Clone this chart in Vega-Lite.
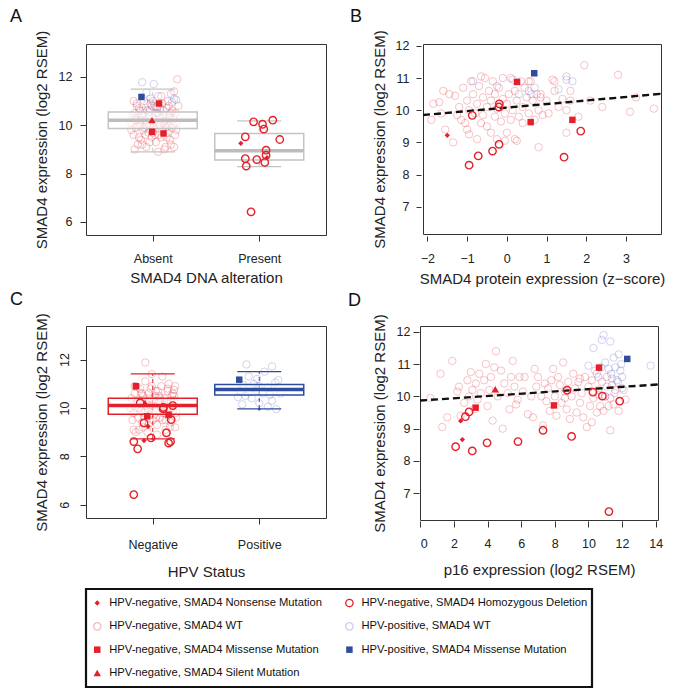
{
"$schema":"https://vega.github.io/schema/vega-lite/v6.json",
"background":"white",
"padding":{"left":7,"top":7,"right":5,"bottom":5},
"config":{
 "font":"Liberation Sans",
 "view":{"stroke":"#333","strokeWidth":1},
 "axis":{"grid":false,"domain":false,"tickColor":"#333","tickSize":6,"tickWidth":1,"labelFontSize":12.5,"labelColor":"#222","titleFontSize":15,"titleFontWeight":"normal","titleColor":"#222","labelFont":"Liberation Sans","titleFont":"Liberation Sans"},
 "title":{"font":"Liberation Sans","fontSize":18,"fontWeight":"normal","color":"#111","anchor":"start","frame":"group","baseline":"alphabetic","offset":0}
},
"datasets":{
"A":[
{"x":0.80,"y":10.1,"g":"wtneg"},{"x":0.82,"y":9.6,"g":"wtneg"},{"x":0.83,"y":10.5,"g":"wtneg"},{"x":0.84,"y":9.9,"g":"wtneg"},{"x":0.85,"y":10.3,"g":"wtneg"},{"x":0.86,"y":9.2,"g":"wtneg"},{"x":0.87,"y":10.7,"g":"wtneg"},{"x":0.88,"y":10.0,"g":"wtneg"},{"x":0.89,"y":9.4,"g":"wtneg"},{"x":0.90,"y":10.4,"g":"wtneg"},{"x":0.91,"y":9.8,"g":"wtneg"},{"x":0.92,"y":11.0,"g":"wtneg"},{"x":0.93,"y":10.2,"g":"wtneg"},{"x":0.94,"y":9.1,"g":"wtneg"},{"x":0.95,"y":10.6,"g":"wtneg"},{"x":0.96,"y":9.7,"g":"wtneg"},{"x":0.97,"y":10.0,"g":"wtneg"},{"x":0.98,"y":10.9,"g":"wtneg"},{"x":0.99,"y":9.5,"g":"wtneg"},{"x":1.00,"y":10.3,"g":"wtneg"},{"x":1.01,"y":9.9,"g":"wtneg"},{"x":1.02,"y":10.8,"g":"wtneg"},{"x":1.03,"y":9.3,"g":"wtneg"},{"x":1.04,"y":10.1,"g":"wtneg"},{"x":1.05,"y":10.5,"g":"wtneg"},{"x":1.06,"y":9.6,"g":"wtneg"},{"x":1.07,"y":10.0,"g":"wtneg"},{"x":1.08,"y":11.2,"g":"wtneg"},{"x":1.09,"y":9.8,"g":"wtneg"},{"x":1.10,"y":10.4,"g":"wtneg"},{"x":1.11,"y":9.0,"g":"wtneg"},{"x":1.12,"y":10.2,"g":"wtneg"},{"x":1.13,"y":10.7,"g":"wtneg"},{"x":1.14,"y":9.7,"g":"wtneg"},{"x":1.15,"y":10.0,"g":"wtneg"},{"x":1.16,"y":9.4,"g":"wtneg"},{"x":1.17,"y":10.5,"g":"wtneg"},{"x":1.18,"y":9.9,"g":"wtneg"},{"x":1.19,"y":10.3,"g":"wtneg"},{"x":1.20,"y":11.4,"g":"wtneg"},{"x":1.21,"y":9.6,"g":"wtneg"},{"x":1.22,"y":10.1,"g":"wtneg"},{"x":0.81,"y":10.4,"g":"wtneg"},{"x":0.83,"y":9.0,"g":"wtneg"},{"x":0.85,"y":10.9,"g":"wtneg"},{"x":0.87,"y":9.5,"g":"wtneg"},{"x":0.89,"y":10.2,"g":"wtneg"},{"x":0.91,"y":10.6,"g":"wtneg"},{"x":0.93,"y":9.6,"g":"wtneg"},{"x":0.95,"y":10.1,"g":"wtneg"},{"x":0.97,"y":9.3,"g":"wtneg"},{"x":0.99,"y":10.8,"g":"wtneg"},{"x":1.01,"y":10.1,"g":"wtneg"},{"x":1.03,"y":10.5,"g":"wtneg"},{"x":1.05,"y":8.9,"g":"wtneg"},{"x":1.07,"y":10.3,"g":"wtneg"},{"x":1.09,"y":10.9,"g":"wtneg"},{"x":1.11,"y":10.0,"g":"wtneg"},{"x":1.13,"y":9.5,"g":"wtneg"},{"x":1.15,"y":10.8,"g":"wtneg"},{"x":1.17,"y":9.2,"g":"wtneg"},{"x":1.19,"y":10.0,"g":"wtneg"},{"x":1.21,"y":10.5,"g":"wtneg"},{"x":1.23,"y":11.9,"g":"wtneg"},{"x":0.80,"y":9.8,"g":"wtneg"},{"x":0.84,"y":10.2,"g":"wtneg"},{"x":0.88,"y":10.6,"g":"wtneg"},{"x":0.92,"y":9.9,"g":"wtneg"},{"x":0.96,"y":10.4,"g":"wtneg"},{"x":1.00,"y":9.7,"g":"wtneg"},{"x":1.04,"y":10.7,"g":"wtneg"},{"x":1.08,"y":9.5,"g":"wtneg"},{"x":1.12,"y":9.9,"g":"wtneg"},{"x":1.16,"y":10.3,"g":"wtneg"},{"x":1.20,"y":9.1,"g":"wtneg"},{"x":0.86,"y":10.0,"g":"wtneg"},{"x":0.94,"y":10.0,"g":"wtneg"},{"x":1.02,"y":9.6,"g":"wtneg"},{"x":1.10,"y":10.1,"g":"wtneg"},{"x":1.18,"y":10.6,"g":"wtneg"},{"x":0.90,"y":9.2,"g":"wtneg"},{"x":0.98,"y":11.1,"g":"wtneg"},{"x":1.06,"y":10.4,"g":"wtneg"},{"x":1.14,"y":11.0,"g":"wtneg"},{"x":1.22,"y":9.8,"g":"wtneg"},{"x":1.12,"y":9.1,"g":"wtneg"},{"x":0.82,"y":11.0,"g":"wtneg"},{"x":1.24,"y":10.8,"g":"wtneg"},
{"x":0.90,"y":11.78,"g":"wtpos"},{"x":1.01,"y":11.7,"g":"wtpos"},{"x":1.17,"y":11.3,"g":"wtpos"},{"x":1.20,"y":11.1,"g":"wtpos"},{"x":0.95,"y":10.9,"g":"wtpos"},{"x":1.05,"y":11.2,"g":"wtpos"},{"x":0.85,"y":10.8,"g":"wtpos"},{"x":1.10,"y":10.6,"g":"wtpos"},{"x":0.92,"y":10.5,"g":"wtpos"},{"x":1.15,"y":10.4,"g":"wtpos"},{"x":0.88,"y":10.2,"g":"wtpos"},{"x":1.00,"y":11.0,"g":"wtpos"},{"x":1.07,"y":10.7,"g":"wtpos"},{"x":1.13,"y":10.0,"g":"wtpos"},{"x":0.97,"y":10.55,"g":"wtpos"},{"x":1.18,"y":10.95,"g":"wtpos"},{"x":0.83,"y":10.3,"g":"wtpos"},{"x":1.03,"y":10.75,"g":"wtpos"},{"x":1.22,"y":11.05,"g":"wtpos"},{"x":0.94,"y":11.35,"g":"wtpos"},
{"x":1.947,"y":10.14,"g":"del"},{"x":2.031,"y":10.04,"g":"del"},{"x":2.127,"y":10.21,"g":"del"},{"x":2.043,"y":9.84,"g":"del"},{"x":1.869,"y":9.52,"g":"del"},{"x":2.193,"y":9.41,"g":"del"},{"x":2.064,"y":8.97,"g":"del"},{"x":2.064,"y":8.76,"g":"del"},{"x":1.869,"y":8.62,"g":"del"},{"x":1.977,"y":8.58,"g":"del"},{"x":2.052,"y":8.46,"g":"del"},{"x":1.878,"y":8.31,"g":"del"},{"x":1.923,"y":6.42,"g":"del"},
{"x":1.827,"y":9.25,"g":"nonsense"},{"x":2.073,"y":8.66,"g":"nonsense"},
{"x":0.894,"y":11.17,"g":"mispos"},
{"x":1.059,"y":10.90,"g":"misneg"},{"x":0.993,"y":9.73,"g":"misneg"},{"x":1.101,"y":9.66,"g":"misneg"},
{"x":0.993,"y":10.21,"g":"silent"}
],
"Abox":[
{"x":1,"q1":9.86,"med":10.21,"q3":10.55,"lo":8.90,"hi":11.49},
{"x":2,"q1":8.56,"med":8.94,"q3":9.66,"lo":8.29,"hi":10.18}
],
"B":[
{"x":-1.85,"y":10.2,"g":"wtneg"},{"x":-1.9,"y":9.7,"g":"wtneg"},{"x":-1.6,"y":10.6,"g":"wtneg"},{"x":-1.55,"y":9.4,"g":"wtneg"},{"x":-1.7,"y":10.25,"g":"wtneg"},{"x":-1.35,"y":9.0,"g":"wtneg"},{"x":-1.3,"y":10.45,"g":"wtneg"},{"x":-1.25,"y":9.85,"g":"wtneg"},{"x":-1.2,"y":10.1,"g":"wtneg"},{"x":-1.1,"y":10.7,"g":"wtneg"},{"x":-1.05,"y":9.6,"g":"wtneg"},{"x":-1.0,"y":10.3,"g":"wtneg"},{"x":-1.0,"y":9.4,"g":"wtneg"},{"x":-0.95,"y":10.0,"g":"wtneg"},{"x":-0.9,"y":10.9,"g":"wtneg"},{"x":-0.85,"y":10.5,"g":"wtneg"},{"x":-0.8,"y":9.9,"g":"wtneg"},{"x":-0.75,"y":10.2,"g":"wtneg"},{"x":-0.75,"y":9.1,"g":"wtneg"},{"x":-0.7,"y":10.75,"g":"wtneg"},{"x":-0.65,"y":9.6,"g":"wtneg"},{"x":-0.6,"y":10.4,"g":"wtneg"},{"x":-0.6,"y":9.85,"g":"wtneg"},{"x":-0.55,"y":11.0,"g":"wtneg"},{"x":-0.5,"y":10.1,"g":"wtneg"},{"x":-0.5,"y":9.5,"g":"wtneg"},{"x":-0.45,"y":10.6,"g":"wtneg"},{"x":-0.4,"y":9.3,"g":"wtneg"},{"x":-0.4,"y":10.3,"g":"wtneg"},{"x":-0.35,"y":10.9,"g":"wtneg"},{"x":-0.3,"y":9.8,"g":"wtneg"},{"x":-0.3,"y":10.5,"g":"wtneg"},{"x":-0.25,"y":9.1,"g":"wtneg"},{"x":-0.2,"y":10.7,"g":"wtneg"},{"x":-0.15,"y":9.65,"g":"wtneg"},{"x":-0.1,"y":10.35,"g":"wtneg"},{"x":-0.1,"y":11.0,"g":"wtneg"},{"x":-0.05,"y":9.9,"g":"wtneg"},{"x":0.0,"y":10.2,"g":"wtneg"},{"x":0.0,"y":9.3,"g":"wtneg"},{"x":0.05,"y":10.5,"g":"wtneg"},{"x":0.1,"y":9.7,"g":"wtneg"},{"x":0.1,"y":11.0,"g":"wtneg"},{"x":0.15,"y":10.0,"g":"wtneg"},{"x":0.2,"y":9.1,"g":"wtneg"},{"x":0.2,"y":10.6,"g":"wtneg"},{"x":0.25,"y":10.3,"g":"wtneg"},{"x":0.3,"y":9.8,"g":"wtneg"},{"x":0.35,"y":10.9,"g":"wtneg"},{"x":0.4,"y":10.1,"g":"wtneg"},{"x":0.4,"y":9.6,"g":"wtneg"},{"x":0.45,"y":10.7,"g":"wtneg"},{"x":0.5,"y":10.4,"g":"wtneg"},{"x":0.55,"y":9.9,"g":"wtneg"},{"x":0.6,"y":10.9,"g":"wtneg"},{"x":0.65,"y":10.3,"g":"wtneg"},{"x":0.7,"y":9.7,"g":"wtneg"},{"x":0.75,"y":10.5,"g":"wtneg"},{"x":0.8,"y":8.85,"g":"wtneg"},{"x":0.8,"y":10.0,"g":"wtneg"},{"x":0.85,"y":10.4,"g":"wtneg"},{"x":0.9,"y":9.85,"g":"wtneg"},{"x":1.0,"y":10.3,"g":"wtneg"},{"x":1.05,"y":9.9,"g":"wtneg"},{"x":1.2,"y":10.6,"g":"wtneg"},{"x":1.2,"y":10.9,"g":"wtneg"},{"x":1.3,"y":10.1,"g":"wtneg"},{"x":1.4,"y":10.35,"g":"wtneg"},{"x":1.5,"y":10.0,"g":"wtneg"},{"x":1.5,"y":11.05,"g":"wtneg"},{"x":1.5,"y":9.3,"g":"wtneg"},{"x":1.6,"y":10.6,"g":"wtneg"},{"x":1.6,"y":10.3,"g":"wtneg"},{"x":1.8,"y":9.8,"g":"wtneg"},{"x":1.95,"y":11.4,"g":"wtneg"},{"x":2.1,"y":10.3,"g":"wtneg"},{"x":2.4,"y":10.1,"g":"wtneg"},{"x":2.8,"y":11.1,"g":"wtneg"},{"x":3.1,"y":9.95,"g":"wtneg"},{"x":3.25,"y":10.4,"g":"wtneg"},{"x":3.7,"y":10.05,"g":"wtneg"},{"x":-1.65,"y":9.9,"g":"wtneg"},{"x":-1.45,"y":10.5,"g":"wtneg"},{"x":-0.95,"y":9.25,"g":"wtneg"},{"x":-0.65,"y":11.05,"g":"wtneg"},{"x":-0.25,"y":10.05,"g":"wtneg"},{"x":0.55,"y":10.9,"g":"wtneg"},{"x":0.85,"y":10.5,"g":"wtneg"},{"x":-1.15,"y":9.7,"g":"wtneg"},{"x":-0.05,"y":9.05,"g":"wtneg"},{"x":0.25,"y":9.05,"g":"wtneg"},{"x":1.15,"y":10.95,"g":"wtneg"},
{"x":-0.85,"y":10.9,"g":"wtpos"},{"x":-0.25,"y":10.75,"g":"wtpos"},{"x":0.15,"y":10.95,"g":"wtpos"},{"x":0.55,"y":10.6,"g":"wtpos"},{"x":0.62,"y":10.5,"g":"wtpos"},{"x":1.5,"y":10.95,"g":"wtpos"},{"x":1.65,"y":10.9,"g":"wtpos"},{"x":0.7,"y":10.7,"g":"wtpos"},{"x":0.3,"y":10.5,"g":"wtpos"},{"x":1.3,"y":10.65,"g":"wtpos"},
{"x":-0.87,"y":9.84,"g":"del"},{"x":-0.19,"y":10.2,"g":"del"},{"x":-0.2,"y":10.1,"g":"del"},{"x":-0.196,"y":8.94,"g":"del"},{"x":-0.36,"y":8.73,"g":"del"},{"x":-0.72,"y":8.58,"g":"del"},{"x":-0.95,"y":8.29,"g":"del"},{"x":1.44,"y":8.54,"g":"del"},{"x":1.86,"y":9.35,"g":"del"},
{"x":-1.5,"y":9.22,"g":"nonsense"},
{"x":0.257,"y":10.88,"g":"misneg"},{"x":0.60,"y":9.63,"g":"misneg"},{"x":1.65,"y":9.70,"g":"misneg"},
{"x":0.69,"y":11.15,"g":"mispos"}
],
"Bline":[{"x":-2.11,"y":9.85},{"x":3.88,"y":10.51}],
"C":[
{"x":0.79,"y":10.0,"g":"wtneg"},{"x":0.81,"y":9.5,"g":"wtneg"},{"x":0.83,"y":10.6,"g":"wtneg"},{"x":0.84,"y":10.0,"g":"wtneg"},{"x":0.86,"y":10.3,"g":"wtneg"},{"x":0.87,"y":9.1,"g":"wtneg"},{"x":0.88,"y":10.8,"g":"wtneg"},{"x":0.89,"y":9.9,"g":"wtneg"},{"x":0.90,"y":9.4,"g":"wtneg"},{"x":0.91,"y":10.5,"g":"wtneg"},{"x":0.92,"y":9.8,"g":"wtneg"},{"x":0.93,"y":11.1,"g":"wtneg"},{"x":0.94,"y":10.2,"g":"wtneg"},{"x":0.95,"y":9.0,"g":"wtneg"},{"x":0.96,"y":10.6,"g":"wtneg"},{"x":0.97,"y":9.7,"g":"wtneg"},{"x":0.98,"y":10.1,"g":"wtneg"},{"x":0.99,"y":10.9,"g":"wtneg"},{"x":1.00,"y":9.5,"g":"wtneg"},{"x":1.01,"y":10.3,"g":"wtneg"},{"x":1.02,"y":9.9,"g":"wtneg"},{"x":1.03,"y":10.7,"g":"wtneg"},{"x":1.04,"y":9.3,"g":"wtneg"},{"x":1.05,"y":10.2,"g":"wtneg"},{"x":1.06,"y":10.5,"g":"wtneg"},{"x":1.07,"y":9.6,"g":"wtneg"},{"x":1.08,"y":10.0,"g":"wtneg"},{"x":1.09,"y":11.3,"g":"wtneg"},{"x":1.10,"y":9.8,"g":"wtneg"},{"x":1.11,"y":10.4,"g":"wtneg"},{"x":1.12,"y":9.1,"g":"wtneg"},{"x":1.13,"y":10.2,"g":"wtneg"},{"x":1.14,"y":10.7,"g":"wtneg"},{"x":1.15,"y":9.7,"g":"wtneg"},{"x":1.16,"y":10.0,"g":"wtneg"},{"x":1.17,"y":9.4,"g":"wtneg"},{"x":1.18,"y":10.5,"g":"wtneg"},{"x":1.19,"y":9.9,"g":"wtneg"},{"x":1.20,"y":10.3,"g":"wtneg"},{"x":1.21,"y":10.9,"g":"wtneg"},{"x":1.22,"y":9.6,"g":"wtneg"},{"x":0.80,"y":10.4,"g":"wtneg"},{"x":0.82,"y":9.1,"g":"wtneg"},{"x":0.84,"y":10.9,"g":"wtneg"},{"x":0.86,"y":9.6,"g":"wtneg"},{"x":0.88,"y":10.2,"g":"wtneg"},{"x":0.90,"y":10.6,"g":"wtneg"},{"x":0.92,"y":9.6,"g":"wtneg"},{"x":0.94,"y":10.1,"g":"wtneg"},{"x":0.96,"y":9.3,"g":"wtneg"},{"x":0.98,"y":10.8,"g":"wtneg"},{"x":1.00,"y":10.1,"g":"wtneg"},{"x":1.02,"y":10.5,"g":"wtneg"},{"x":1.04,"y":8.9,"g":"wtneg"},{"x":1.06,"y":10.3,"g":"wtneg"},{"x":1.08,"y":10.9,"g":"wtneg"},{"x":1.10,"y":10.0,"g":"wtneg"},{"x":1.12,"y":9.5,"g":"wtneg"},{"x":1.14,"y":10.8,"g":"wtneg"},{"x":1.16,"y":9.2,"g":"wtneg"},{"x":1.18,"y":10.0,"g":"wtneg"},{"x":1.20,"y":10.5,"g":"wtneg"},{"x":0.93,"y":11.88,"g":"wtneg"},{"x":0.82,"y":9.8,"g":"wtneg"},{"x":0.85,"y":10.2,"g":"wtneg"},{"x":0.89,"y":10.6,"g":"wtneg"},{"x":0.93,"y":9.9,"g":"wtneg"},{"x":0.97,"y":10.4,"g":"wtneg"},{"x":1.01,"y":9.7,"g":"wtneg"},{"x":1.05,"y":10.7,"g":"wtneg"},{"x":1.09,"y":9.5,"g":"wtneg"},{"x":1.13,"y":9.9,"g":"wtneg"},{"x":1.17,"y":10.3,"g":"wtneg"},{"x":1.21,"y":9.2,"g":"wtneg"},{"x":0.87,"y":10.0,"g":"wtneg"},{"x":0.95,"y":10.0,"g":"wtneg"},{"x":1.03,"y":9.6,"g":"wtneg"},{"x":1.11,"y":10.1,"g":"wtneg"},{"x":1.19,"y":10.6,"g":"wtneg"},{"x":0.91,"y":9.2,"g":"wtneg"},{"x":0.99,"y":11.4,"g":"wtneg"},{"x":1.07,"y":10.4,"g":"wtneg"},{"x":1.15,"y":11.0,"g":"wtneg"},{"x":1.22,"y":9.8,"g":"wtneg"},{"x":1.13,"y":9.0,"g":"wtneg"},{"x":0.83,"y":10.9,"g":"wtneg"},{"x":1.20,"y":10.75,"g":"wtneg"},{"x":0.84,"y":9.0,"g":"wtneg"},
{"x":1.88,"y":11.8,"g":"wtpos"},{"x":2.12,"y":11.72,"g":"wtpos"},{"x":2.05,"y":11.5,"g":"wtpos"},{"x":2.18,"y":11.15,"g":"wtpos"},{"x":2.15,"y":11.05,"g":"wtpos"},{"x":1.85,"y":10.95,"g":"wtpos"},{"x":1.95,"y":11.0,"g":"wtpos"},{"x":2.0,"y":10.9,"g":"wtpos"},{"x":2.08,"y":10.85,"g":"wtpos"},{"x":1.82,"y":10.7,"g":"wtpos"},{"x":1.9,"y":10.65,"g":"wtpos"},{"x":1.97,"y":10.75,"g":"wtpos"},{"x":2.03,"y":10.6,"g":"wtpos"},{"x":2.1,"y":10.55,"g":"wtpos"},{"x":2.2,"y":10.6,"g":"wtpos"},{"x":1.8,"y":10.45,"g":"wtpos"},{"x":1.87,"y":10.5,"g":"wtpos"},{"x":1.93,"y":10.4,"g":"wtpos"},{"x":2.0,"y":10.2,"g":"wtpos"},{"x":1.84,"y":10.15,"g":"wtpos"},{"x":2.08,"y":10.05,"g":"wtpos"},{"x":2.16,"y":9.95,"g":"wtpos"},{"x":1.98,"y":11.2,"g":"wtpos"},{"x":2.12,"y":10.3,"g":"wtpos"},{"x":1.9,"y":11.3,"g":"wtpos"},
{"x":0.822,"y":6.42,"g":"del"},{"x":0.822,"y":8.61,"g":"del"},{"x":0.858,"y":8.31,"g":"del"},{"x":0.984,"y":8.76,"g":"del"},{"x":0.918,"y":9.38,"g":"del"},{"x":1.128,"y":8.97,"g":"del"},{"x":1.149,"y":8.55,"g":"del"},{"x":1.167,"y":8.61,"g":"del"},{"x":1.173,"y":9.52,"g":"del"},{"x":0.882,"y":10.21,"g":"del"},{"x":1.098,"y":9.96,"g":"del"},{"x":1.188,"y":10.10,"g":"del"},{"x":1.10,"y":10.02,"g":"del"},
{"x":0.843,"y":10.90,"g":"misneg"},{"x":0.948,"y":9.66,"g":"misneg"},{"x":1.149,"y":9.72,"g":"misneg"},
{"x":0.927,"y":10.21,"g":"silent"},
{"x":0.957,"y":9.24,"g":"nonsense"},{"x":0.918,"y":8.65,"g":"nonsense"},
{"x":1.812,"y":11.17,"g":"mispos"}
],
"Cbox":[
{"x":1,"grp":"neg","q1":9.74,"med":10.10,"q3":10.40,"lo":8.72,"hi":11.41},
{"x":2,"grp":"pos","q1":10.54,"med":10.76,"q3":10.97,"lo":9.96,"hi":11.50}
],
"D":[
{"x":0.6,"y":9.95,"g":"wtneg"},{"x":1.2,"y":10.7,"g":"wtneg"},{"x":1.3,"y":9.05,"g":"wtneg"},{"x":1.6,"y":9.35,"g":"wtneg"},{"x":1.9,"y":11.1,"g":"wtneg"},{"x":2.2,"y":10.15,"g":"wtneg"},{"x":2.3,"y":10.3,"g":"wtneg"},{"x":2.6,"y":9.8,"g":"wtneg"},{"x":2.8,"y":10.5,"g":"wtneg"},{"x":2.9,"y":10.0,"g":"wtneg"},{"x":3.0,"y":10.75,"g":"wtneg"},{"x":3.1,"y":10.2,"g":"wtneg"},{"x":3.3,"y":10.4,"g":"wtneg"},{"x":3.4,"y":9.9,"g":"wtneg"},{"x":3.5,"y":10.7,"g":"wtneg"},{"x":3.6,"y":10.1,"g":"wtneg"},{"x":3.8,"y":10.5,"g":"wtneg"},{"x":3.9,"y":11.0,"g":"wtneg"},{"x":4.0,"y":9.7,"g":"wtneg"},{"x":4.1,"y":10.2,"g":"wtneg"},{"x":4.2,"y":10.6,"g":"wtneg"},{"x":4.3,"y":9.25,"g":"wtneg"},{"x":4.5,"y":11.4,"g":"wtneg"},{"x":4.6,"y":10.0,"g":"wtneg"},{"x":4.8,"y":10.8,"g":"wtneg"},{"x":4.9,"y":9.0,"g":"wtneg"},{"x":5.0,"y":10.4,"g":"wtneg"},{"x":5.2,"y":10.1,"g":"wtneg"},{"x":5.3,"y":9.6,"g":"wtneg"},{"x":5.4,"y":10.6,"g":"wtneg"},{"x":5.5,"y":11.1,"g":"wtneg"},{"x":5.6,"y":10.3,"g":"wtneg"},{"x":5.8,"y":9.9,"g":"wtneg"},{"x":5.9,"y":10.6,"g":"wtneg"},{"x":6.1,"y":10.15,"g":"wtneg"},{"x":6.2,"y":10.6,"g":"wtneg"},{"x":6.4,"y":9.45,"g":"wtneg"},{"x":6.6,"y":10.0,"g":"wtneg"},{"x":6.7,"y":9.35,"g":"wtneg"},{"x":6.9,"y":10.3,"g":"wtneg"},{"x":7.0,"y":10.6,"g":"wtneg"},{"x":7.2,"y":10.0,"g":"wtneg"},{"x":7.3,"y":9.1,"g":"wtneg"},{"x":7.4,"y":10.4,"g":"wtneg"},{"x":7.5,"y":9.85,"g":"wtneg"},{"x":7.6,"y":10.25,"g":"wtneg"},{"x":7.8,"y":10.5,"g":"wtneg"},{"x":7.9,"y":10.85,"g":"wtneg"},{"x":8.0,"y":10.0,"g":"wtneg"},{"x":8.1,"y":9.4,"g":"wtneg"},{"x":8.2,"y":10.6,"g":"wtneg"},{"x":8.3,"y":10.35,"g":"wtneg"},{"x":8.4,"y":9.8,"g":"wtneg"},{"x":8.5,"y":11.05,"g":"wtneg"},{"x":8.6,"y":10.15,"g":"wtneg"},{"x":8.7,"y":9.6,"g":"wtneg"},{"x":8.8,"y":10.45,"g":"wtneg"},{"x":8.9,"y":9.3,"g":"wtneg"},{"x":9.0,"y":10.0,"g":"wtneg"},{"x":9.1,"y":10.7,"g":"wtneg"},{"x":9.2,"y":10.25,"g":"wtneg"},{"x":9.3,"y":9.5,"g":"wtneg"},{"x":9.4,"y":10.45,"g":"wtneg"},{"x":9.5,"y":9.8,"g":"wtneg"},{"x":9.6,"y":10.1,"g":"wtneg"},{"x":9.7,"y":9.35,"g":"wtneg"},{"x":9.8,"y":10.6,"g":"wtneg"},{"x":9.9,"y":9.05,"g":"wtneg"},{"x":10.0,"y":10.3,"g":"wtneg"},{"x":10.1,"y":9.7,"g":"wtneg"},{"x":10.2,"y":10.5,"g":"wtneg"},{"x":10.3,"y":9.95,"g":"wtneg"},{"x":10.4,"y":10.8,"g":"wtneg"},{"x":10.5,"y":9.5,"g":"wtneg"},{"x":10.6,"y":10.2,"g":"wtneg"},{"x":10.7,"y":9.7,"g":"wtneg"},{"x":10.8,"y":10.45,"g":"wtneg"},{"x":10.9,"y":9.55,"g":"wtneg"},{"x":11.0,"y":10.0,"g":"wtneg"},{"x":11.1,"y":10.6,"g":"wtneg"},{"x":11.2,"y":9.7,"g":"wtneg"},{"x":11.3,"y":8.95,"g":"wtneg"},{"x":11.4,"y":10.35,"g":"wtneg"},{"x":11.5,"y":9.75,"g":"wtneg"},{"x":11.6,"y":10.2,"g":"wtneg"},{"x":11.8,"y":9.55,"g":"wtneg"},{"x":12.0,"y":10.25,"g":"wtneg"},{"x":12.2,"y":9.9,"g":"wtneg"},{"x":3.2,"y":9.6,"g":"wtneg"},{"x":4.4,"y":10.9,"g":"wtneg"},{"x":5.7,"y":9.75,"g":"wtneg"},{"x":6.8,"y":10.85,"g":"wtneg"},{"x":7.7,"y":9.55,"g":"wtneg"},{"x":8.6,"y":9.95,"g":"wtneg"},{"x":9.5,"y":10.55,"g":"wtneg"},{"x":10.6,"y":10.05,"g":"wtneg"},{"x":11.3,"y":9.95,"g":"wtneg"},{"x":2.4,"y":9.4,"g":"wtneg"},{"x":10.2,"y":9.2,"g":"wtneg"},
{"x":10.0,"y":10.95,"g":"wtpos"},{"x":10.3,"y":11.5,"g":"wtpos"},{"x":10.6,"y":10.6,"g":"wtpos"},{"x":10.8,"y":11.75,"g":"wtpos"},{"x":10.9,"y":11.9,"g":"wtpos"},{"x":11.0,"y":11.05,"g":"wtpos"},{"x":11.2,"y":10.85,"g":"wtpos"},{"x":11.3,"y":11.7,"g":"wtpos"},{"x":11.4,"y":10.55,"g":"wtpos"},{"x":11.5,"y":11.2,"g":"wtpos"},{"x":11.6,"y":10.9,"g":"wtpos"},{"x":11.7,"y":10.5,"g":"wtpos"},{"x":11.75,"y":10.45,"g":"wtpos"},{"x":11.8,"y":11.3,"g":"wtpos"},{"x":11.9,"y":10.8,"g":"wtpos"},{"x":12.0,"y":10.6,"g":"wtpos"},{"x":11.1,"y":10.3,"g":"wtpos"},{"x":11.55,"y":10.1,"g":"wtpos"},{"x":10.5,"y":10.7,"g":"wtpos"},{"x":13.7,"y":10.95,"g":"wtpos"},{"x":11.95,"y":11.0,"g":"wtpos"},{"x":10.75,"y":10.9,"g":"wtpos"},{"x":11.35,"y":10.7,"g":"wtpos"},{"x":12.1,"y":10.2,"g":"wtpos"},{"x":11.0,"y":10.0,"g":"wtpos"},
{"x":2.10,"y":8.44,"g":"del"},{"x":3.09,"y":8.31,"g":"del"},{"x":3.97,"y":8.56,"g":"del"},{"x":5.81,"y":8.60,"g":"del"},{"x":7.30,"y":8.95,"g":"del"},{"x":9.00,"y":8.76,"g":"del"},{"x":2.68,"y":9.37,"g":"del"},{"x":2.90,"y":9.52,"g":"del"},{"x":8.73,"y":10.19,"g":"del"},{"x":10.27,"y":10.13,"g":"del"},{"x":10.83,"y":10.01,"g":"del"},{"x":11.86,"y":9.85,"g":"del"},{"x":11.22,"y":6.43,"g":"del"},
{"x":10.63,"y":10.89,"g":"misneg"},{"x":3.29,"y":9.65,"g":"misneg"},{"x":7.95,"y":9.72,"g":"misneg"},
{"x":12.31,"y":11.16,"g":"mispos"},
{"x":4.46,"y":10.22,"g":"silent"},
{"x":2.40,"y":9.24,"g":"nonsense"},{"x":2.50,"y":8.66,"g":"nonsense"}
],
"Dline":[{"x":-0.02,"y":9.87},{"x":14.14,"y":10.37}],
"leg":[
{"col":0,"row":0,"g":"nonsense","label":"HPV-negative, SMAD4 Nonsense Mutation"},
{"col":0,"row":1,"g":"wtneg","label":"HPV-negative, SMAD4 WT"},
{"col":0,"row":2,"g":"misneg","label":"HPV-negative, SMAD4 Missense Mutation"},
{"col":0,"row":3,"g":"silent","label":"HPV-negative, SMAD4 Silent Mutation"},
{"col":1,"row":0,"g":"del","label":"HPV-negative, SMAD4 Homozygous Deletion"},
{"col":1,"row":1,"g":"wtpos","label":"HPV-positive, SMAD4 WT"},
{"col":1,"row":2,"g":"mispos","label":"HPV-positive, SMAD4 Missense Mutation"}
]
},
"spacing":7,
"align":"none",
"vconcat":[
{"spacing":3,"align":"none","vconcat":[
{"hconcat":[
{"width":240,"height":191,"title":{"text":"A","dx":-76},"data":{"name":"A"},
 "encoding":{
  "x":{"field":"x","type":"quantitative","scale":{"domain":[0.42,2.58],"nice":false,"zero":false},"axis":{"values":[1,2],"labelExpr":"datum.value==1?'Absent':'Present'","title":"SMAD4 DNA alteration","labelPadding":11,"titlePadding":6}},
  "y":{"field":"y","type":"quantitative","scale":{"domain":[5.46,13.36],"nice":false,"zero":false},"axis":{"values":[6,8,10,12],"title":"SMAD4 expression (log2 RSEM)","labelPadding":8,"titlePadding":9}},
  "color":{"field":"g","type":"nominal","legend":null,"scale":{"domain":["nonsense","wtneg","misneg","silent","del","wtpos","mispos"],"range":["#e4202a","#e4202a","#e4202a","#e4202a","#e4202a","#5a5acc","#2e4d9b"]}},
  "shape":{"field":"g","type":"nominal","legend":null,"scale":{"domain":["nonsense","wtneg","misneg","silent","del","wtpos","mispos"],"range":["diamond","circle","square","triangle-up","circle","circle","square"]}},
  "size":{"field":"g","type":"nominal","legend":null,"scale":{"type":"ordinal","domain":["nonsense","wtneg","misneg","silent","del","wtpos","mispos"],"range":[28,55,42,55,55,55,42]}},
  "opacity":{"field":"g","type":"nominal","legend":null,"scale":{"type":"ordinal","domain":["nonsense","wtneg","misneg","silent","del","wtpos","mispos"],"range":[1,0.3,1,1,1,0.3,1]}}
 },
 "layer":[
  {"transform":[{"filter":"datum.g=='wtneg'||datum.g=='wtpos'"}],"mark":{"type":"point","filled":false,"strokeWidth":0.9}},
  {"data":{"name":"Abox"},"mark":{"type":"rule","strokeDash":[4,3]},"encoding":{"y":{"field":"lo","type":"quantitative","scale":{"domain":[5.46,13.36],"nice":false,"zero":false},"axis":{"values":[6,8,10,12],"title":"SMAD4 expression (log2 RSEM)","labelPadding":8,"titlePadding":9}},"y2":{"field":"hi"},"color":{"value":"#c8c8c8"},"opacity":{"value":1},"size":{"value":1}}},
  {"data":{"name":"Abox"},"mark":{"type":"bar","fill":"white","fillOpacity":0.65,"stroke":"#c4c4c4","strokeWidth":1.5},"encoding":{"y":{"field":"q1","type":"quantitative","scale":{"domain":[5.46,13.36],"nice":false,"zero":false},"axis":{"values":[6,8,10,12],"title":"SMAD4 expression (log2 RSEM)","labelPadding":8,"titlePadding":9}},"y2":{"field":"q3"},"color":{"value":"#c4c4c4"},"opacity":{"value":1},"size":{"value":89}}},
  {"data":{"name":"Abox"},"mark":{"type":"tick","orient":"horizontal","thickness":3.5},"encoding":{"y":{"field":"med","type":"quantitative","scale":{"domain":[5.46,13.36],"nice":false,"zero":false},"axis":{"values":[6,8,10,12],"title":"SMAD4 expression (log2 RSEM)","labelPadding":8,"titlePadding":9}},"color":{"value":"#bdbdbd"},"opacity":{"value":1},"size":{"value":89}}},
  {"data":{"name":"Abox"},"transform":[{"fold":["lo","hi"],"as":["k","v"]}],"mark":{"type":"tick","orient":"horizontal","thickness":1.3},"encoding":{"y":{"field":"v","type":"quantitative","scale":{"domain":[5.46,13.36],"nice":false,"zero":false},"axis":{"values":[6,8,10,12],"title":"SMAD4 expression (log2 RSEM)","labelPadding":8,"titlePadding":9}},"color":{"value":"#c4c4c4"},"opacity":{"value":1},"size":{"value":44}}},
  {"transform":[{"filter":"datum.g=='del'"}],"mark":{"type":"point","filled":false,"strokeWidth":1.4}},
  {"transform":[{"filter":"datum.g!='del'&&datum.g!='wtneg'&&datum.g!='wtpos'"}],"mark":{"type":"point","filled":true,"strokeWidth":0}}
 ]},
{"width":238,"height":190,"title":{"text":"B","dx":-73},"data":{"name":"B"},
 "encoding":{
  "x":{"field":"x","type":"quantitative","scale":{"domain":[-2.11,3.88],"nice":false,"zero":false},"axis":{"values":[-2,-1,0,1,2,3],"title":"SMAD4 protein expression (z\u2212score)","offset":2,"tickSize":5,"labelPadding":11,"titlePadding":7}},
  "y":{"field":"y","type":"quantitative","scale":{"domain":[6.15,12.06],"nice":false,"zero":false},"axis":{"values":[7,8,9,10,11,12],"title":"SMAD4 expression (log2 RSEM)","offset":2,"tickSize":5,"labelPadding":7,"titlePadding":8}},
  "color":{"field":"g","type":"nominal","legend":null,"scale":{"domain":["nonsense","wtneg","misneg","silent","del","wtpos","mispos"],"range":["#e4202a","#e4202a","#e4202a","#e4202a","#e4202a","#5a5acc","#2e4d9b"]}},
  "shape":{"field":"g","type":"nominal","legend":null,"scale":{"domain":["nonsense","wtneg","misneg","silent","del","wtpos","mispos"],"range":["diamond","circle","square","triangle-up","circle","circle","square"]}},
  "size":{"field":"g","type":"nominal","legend":null,"scale":{"type":"ordinal","domain":["nonsense","wtneg","misneg","silent","del","wtpos","mispos"],"range":[28,55,42,55,55,55,42]}},
  "opacity":{"field":"g","type":"nominal","legend":null,"scale":{"type":"ordinal","domain":["nonsense","wtneg","misneg","silent","del","wtpos","mispos"],"range":[1,0.3,1,1,1,0.3,1]}}
 },
 "layer":[
  {"transform":[{"filter":"datum.g=='wtneg'||datum.g=='wtpos'"}],"mark":{"type":"point","filled":false,"strokeWidth":0.9}},
  {"data":{"name":"Bline"},"mark":{"type":"line","strokeDash":[7,4],"clip":true},"encoding":{"color":{"value":"#111"},"opacity":{"value":1},"size":{"value":2.4}}},
  {"transform":[{"filter":"datum.g=='del'"}],"mark":{"type":"point","filled":false,"strokeWidth":1.4}},
  {"transform":[{"filter":"datum.g!='del'&&datum.g!='wtneg'&&datum.g!='wtpos'"}],"mark":{"type":"point","filled":true,"strokeWidth":0}}
 ]}
],"spacing":22},
{"hconcat":[
{"width":240,"height":192,"title":{"text":"C","dx":-76},"data":{"name":"C"},
 "encoding":{
  "x":{"field":"x","type":"quantitative","scale":{"domain":[0.42,2.58],"nice":false,"zero":false},"axis":{"values":[1,2],"labelExpr":"datum.value==1?'Negative':'Positive'","title":"HPV Status","labelPadding":14,"titlePadding":14}},
  "y":{"field":"y","type":"quantitative","scale":{"domain":[5.45,13.39],"nice":false,"zero":false},"axis":{"values":[6,8,10,12],"title":"SMAD4 expression (log2 RSEM)","labelAngle":-90,"labelAlign":"center","labelBaseline":"bottom","labelPadding":9,"titlePadding":9}},
  "color":{"field":"g","type":"nominal","legend":null,"scale":{"domain":["nonsense","wtneg","misneg","silent","del","wtpos","mispos"],"range":["#e4202a","#e4202a","#e4202a","#e4202a","#e4202a","#5a5acc","#2e4d9b"]}},
  "shape":{"field":"g","type":"nominal","legend":null,"scale":{"domain":["nonsense","wtneg","misneg","silent","del","wtpos","mispos"],"range":["diamond","circle","square","triangle-up","circle","circle","square"]}},
  "size":{"field":"g","type":"nominal","legend":null,"scale":{"type":"ordinal","domain":["nonsense","wtneg","misneg","silent","del","wtpos","mispos"],"range":[28,55,42,55,55,55,42]}},
  "opacity":{"field":"g","type":"nominal","legend":null,"scale":{"type":"ordinal","domain":["nonsense","wtneg","misneg","silent","del","wtpos","mispos"],"range":[1,0.3,1,1,1,0.3,1]}}
 },
 "layer":[
  {"transform":[{"filter":"datum.g=='wtneg'||datum.g=='wtpos'"}],"mark":{"type":"point","filled":false,"strokeWidth":0.9}},
  {"data":{"name":"Cbox"},"mark":{"type":"rule","strokeDash":[4,3]},"encoding":{"y":{"field":"lo","type":"quantitative","scale":{"domain":[5.45,13.39],"nice":false,"zero":false},"axis":{"values":[6,8,10,12],"title":"SMAD4 expression (log2 RSEM)","labelAngle":-90,"labelAlign":"center","labelBaseline":"bottom","labelPadding":9,"titlePadding":9}},"y2":{"field":"hi"},"color":{"value":"#e4202a"},"stroke":{"field":"grp","type":"nominal","legend":null,"scale":{"domain":["neg","pos"],"range":["#e4202a","#2e4d9b"]}},"opacity":{"value":1},"size":{"value":1}}},
  {"data":{"name":"Cbox"},"mark":{"type":"bar","fill":"white","fillOpacity":0.55,"strokeWidth":1.5},"encoding":{"y":{"field":"q1","type":"quantitative","scale":{"domain":[5.45,13.39],"nice":false,"zero":false},"axis":{"values":[6,8,10,12],"title":"SMAD4 expression (log2 RSEM)","labelAngle":-90,"labelAlign":"center","labelBaseline":"bottom","labelPadding":9,"titlePadding":9}},"y2":{"field":"q3"},"color":{"value":"#e4202a"},"stroke":{"field":"grp","type":"nominal","legend":null,"scale":{"domain":["neg","pos"],"range":["#e4202a","#2e4d9b"]}},"opacity":{"value":1},"size":{"value":89}}},
  {"data":{"name":"Cbox"},"mark":{"type":"tick","orient":"horizontal","thickness":3.5},"encoding":{"y":{"field":"med","type":"quantitative","scale":{"domain":[5.45,13.39],"nice":false,"zero":false},"axis":{"values":[6,8,10,12],"title":"SMAD4 expression (log2 RSEM)","labelAngle":-90,"labelAlign":"center","labelBaseline":"bottom","labelPadding":9,"titlePadding":9}},"color":{"value":"#e4202a"},"fill":{"field":"grp","type":"nominal","legend":null,"scale":{"domain":["neg","pos"],"range":["#e4202a","#2e4d9b"]}},"opacity":{"value":1},"size":{"value":89}}},
  {"data":{"name":"Cbox"},"transform":[{"fold":["lo","hi"],"as":["k","v"]}],"mark":{"type":"tick","orient":"horizontal","thickness":1.3},"encoding":{"y":{"field":"v","type":"quantitative","scale":{"domain":[5.45,13.39],"nice":false,"zero":false},"axis":{"values":[6,8,10,12],"title":"SMAD4 expression (log2 RSEM)","labelAngle":-90,"labelAlign":"center","labelBaseline":"bottom","labelPadding":9,"titlePadding":9}},"color":{"value":"#e4202a"},"fill":{"field":"grp","type":"nominal","legend":null,"scale":{"domain":["neg","pos"],"range":["#e4202a","#2e4d9b"]}},"opacity":{"value":1},"size":{"value":44}}},
  {"transform":[{"filter":"datum.g=='del'"}],"mark":{"type":"point","filled":false,"strokeWidth":1.4}},
  {"transform":[{"filter":"datum.g!='del'&&datum.g!='wtneg'&&datum.g!='wtpos'"}],"mark":{"type":"point","filled":true,"strokeWidth":0}}
 ]},
{"width":238,"height":194,"title":{"text":"D","dx":-72},"data":{"name":"D"},
 "encoding":{
  "x":{"field":"x","type":"quantitative","scale":{"domain":[-0.02,14.14],"nice":false,"zero":false},"axis":{"values":[0,2,4,6,8,10,12,14],"title":"p16 expression (log2 RSEM)","offset":1,"tickSize":6,"labelPadding":10,"titlePadding":13}},
  "y":{"field":"y","type":"quantitative","scale":{"domain":[6.17,12.18],"nice":false,"zero":false},"axis":{"values":[7,8,9,10,11,12],"title":"SMAD4 expression (log2 RSEM)","offset":1,"tickSize":6,"labelPadding":3,"titlePadding":9}},
  "color":{"field":"g","type":"nominal","legend":null,"scale":{"domain":["nonsense","wtneg","misneg","silent","del","wtpos","mispos"],"range":["#e4202a","#e4202a","#e4202a","#e4202a","#e4202a","#5a5acc","#2e4d9b"]}},
  "shape":{"field":"g","type":"nominal","legend":null,"scale":{"domain":["nonsense","wtneg","misneg","silent","del","wtpos","mispos"],"range":["diamond","circle","square","triangle-up","circle","circle","square"]}},
  "size":{"field":"g","type":"nominal","legend":null,"scale":{"type":"ordinal","domain":["nonsense","wtneg","misneg","silent","del","wtpos","mispos"],"range":[28,55,42,55,55,55,42]}},
  "opacity":{"field":"g","type":"nominal","legend":null,"scale":{"type":"ordinal","domain":["nonsense","wtneg","misneg","silent","del","wtpos","mispos"],"range":[1,0.3,1,1,1,0.3,1]}}
 },
 "layer":[
  {"transform":[{"filter":"datum.g=='wtneg'||datum.g=='wtpos'"}],"mark":{"type":"point","filled":false,"strokeWidth":0.9}},
  {"data":{"name":"Dline"},"mark":{"type":"line","strokeDash":[7,4],"clip":true},"encoding":{"color":{"value":"#111"},"opacity":{"value":1},"size":{"value":2.4}}},
  {"transform":[{"filter":"datum.g=='del'"}],"mark":{"type":"point","filled":false,"strokeWidth":1.4}},
  {"transform":[{"filter":"datum.g!='del'&&datum.g!='wtneg'&&datum.g!='wtpos'"}],"mark":{"type":"point","filled":true,"strokeWidth":0}}
 ]}
],"spacing":20}
]},
{"width":506,"height":98,"view":{"stroke":"#111","strokeWidth":2.2},
 "title":{"text":" ","orient":"left","offset":59,"color":"white"},
 "data":{"name":"leg"},
 "encoding":{
    "x":{"field":"col","type":"quantitative","scale":{"domain":[-0.0446,1.962],"nice":false,"zero":false},"axis":null},
    "y":{"field":"row","type":"quantitative","scale":{"domain":[-0.6,3.6],"nice":false,"zero":false,"reverse":true},"axis":null}
 },
 "layer":[
  {"transform":[{"filter":"datum.g=='del'||datum.g=='wtneg'||datum.g=='wtpos'"}],"mark":{"type":"point","filled":false,"strokeWidth":1.3},
   "encoding":{
    "color":{"field":"g","type":"nominal","legend":null,"scale":{"domain":["nonsense","wtneg","misneg","silent","del","wtpos","mispos"],"range":["#e4202a","#e4202a","#e4202a","#e4202a","#e4202a","#5a5acc","#2e4d9b"]}},
    "shape":{"field":"g","type":"nominal","legend":null,"scale":{"domain":["nonsense","wtneg","misneg","silent","del","wtpos","mispos"],"range":["diamond","circle","square","triangle-up","circle","circle","square"]}},
    "size":{"field":"g","type":"nominal","legend":null,"scale":{"type":"ordinal","domain":["nonsense","wtneg","misneg","silent","del","wtpos","mispos"],"range":[28,55,42,55,55,55,42]}},
    "opacity":{"field":"g","type":"nominal","legend":null,"scale":{"type":"ordinal","domain":["nonsense","wtneg","misneg","silent","del","wtpos","mispos"],"range":[1,0.15,1,1,1,0.15,1]}}
   }},
  {"transform":[{"filter":"datum.g!='del'&&datum.g!='wtneg'&&datum.g!='wtpos'"}],"mark":{"type":"point","filled":true,"strokeWidth":0},
   "encoding":{
    "color":{"field":"g","type":"nominal","legend":null,"scale":{"domain":["nonsense","wtneg","misneg","silent","del","wtpos","mispos"],"range":["#e4202a","#e4202a","#e4202a","#e4202a","#e4202a","#5a5acc","#2e4d9b"]}},
    "shape":{"field":"g","type":"nominal","legend":null,"scale":{"domain":["nonsense","wtneg","misneg","silent","del","wtpos","mispos"],"range":["diamond","circle","square","triangle-up","circle","circle","square"]}},
    "size":{"field":"g","type":"nominal","legend":null,"scale":{"type":"ordinal","domain":["nonsense","wtneg","misneg","silent","del","wtpos","mispos"],"range":[28,55,42,55,55,55,42]}},
    "opacity":{"field":"g","type":"nominal","legend":null,"scale":{"type":"ordinal","domain":["nonsense","wtneg","misneg","silent","del","wtpos","mispos"],"range":[1,0.15,1,1,1,0.15,1]}}
   }},
  {"mark":{"type":"text","align":"left","baseline":"middle","dx":12,"fontSize":11.2,"color":"#111","font":"Liberation Sans"},
   "encoding":{"text":{"field":"label"}}}
 ]}
]
}
